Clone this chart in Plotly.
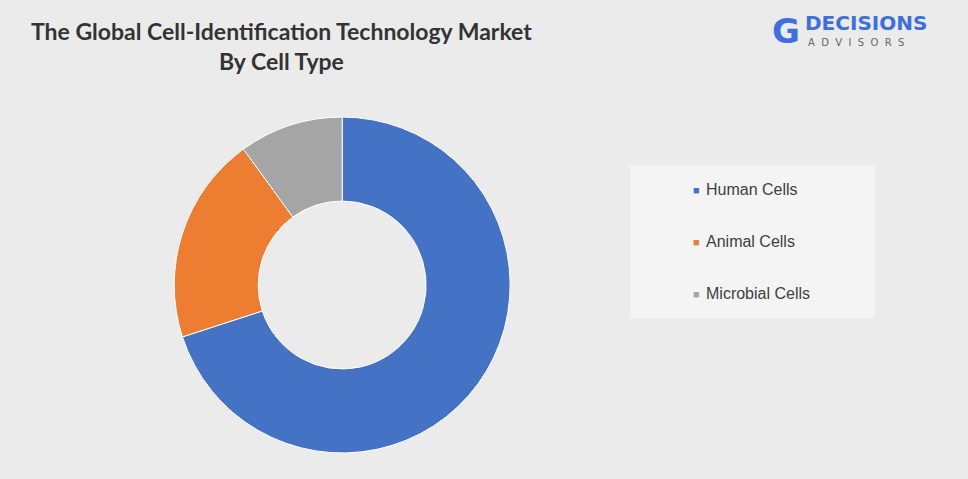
import plotly.graph_objects as go

categories = ["Human Cells", "Animal Cells", "Microbial Cells"]
values = [70, 20, 10]
colors = ["#4472C4", "#ED7D31", "#A5A5A5"]

fig = go.Figure(go.Pie(
    labels=categories, values=values, hole=0.5, sort=False, direction="clockwise",
    rotation=0, marker=dict(colors=colors, line=dict(color="white", width=1)),
    textinfo="none", hoverinfo="label+percent", showlegend=False,
    domain=dict(x=[0.18, 0.527], y=[0.054, 0.756]),
))

shapes = [dict(type="rect", xref="paper", yref="paper", x0=630/968, x1=875/968,
               y0=1-318/479, y1=1-165/479, fillcolor="#f4f4f4", line=dict(width=0), layer="below")]
P = dict(xref="paper", yref="paper", showarrow=False, yanchor="middle")
annotations = [
    dict(text="<b>The Global Cell-Identification Technology Market<br>By Cell Type</b>",
         x=281/968, y=1-46/479, xanchor="center",
         font=dict(family="Lato", size=23, color="#333333"), align="center", **P),
    dict(text="<b>DECISIONS</b>", x=803/968, y=1-23/479, xanchor="left",
         font=dict(family="DejaVu Sans", size=20, color="#3D6FE0"), **P),
    dict(text="A  D  V  I  S  O  R  S", x=806/968, y=1-43/479, xanchor="left",
         font=dict(family="DejaVu Sans", size=10, color="#666666"), **P),
    dict(text="<b>G</b>", x=786/968, y=1-31/479, xanchor="center",
         font=dict(family="DejaVu Sans", size=34, color="#3D6FE0"), **P),
]
for i, (c, col) in enumerate(zip(categories, colors)):
    yy = 1 - (190 + 51.5 * i) / 479
    annotations.append(dict(text="■", x=702/968, y=yy, xanchor="right",
                            font=dict(size=11, color=col), **P))
    annotations.append(dict(text=c, x=704/968, y=yy, xanchor="left",
                            font=dict(family="Liberation Sans", size=16, color="#404040"), **P))

fig.update_layout(width=968, height=479, margin=dict(l=0, r=0, t=0, b=0),
                  paper_bgcolor="#ebebeb", plot_bgcolor="#ebebeb",
                  shapes=shapes, annotations=annotations)
fig.write_html("out.html", config={"displayModeBar": False},
               post_script="document.body.style.margin='0';")
